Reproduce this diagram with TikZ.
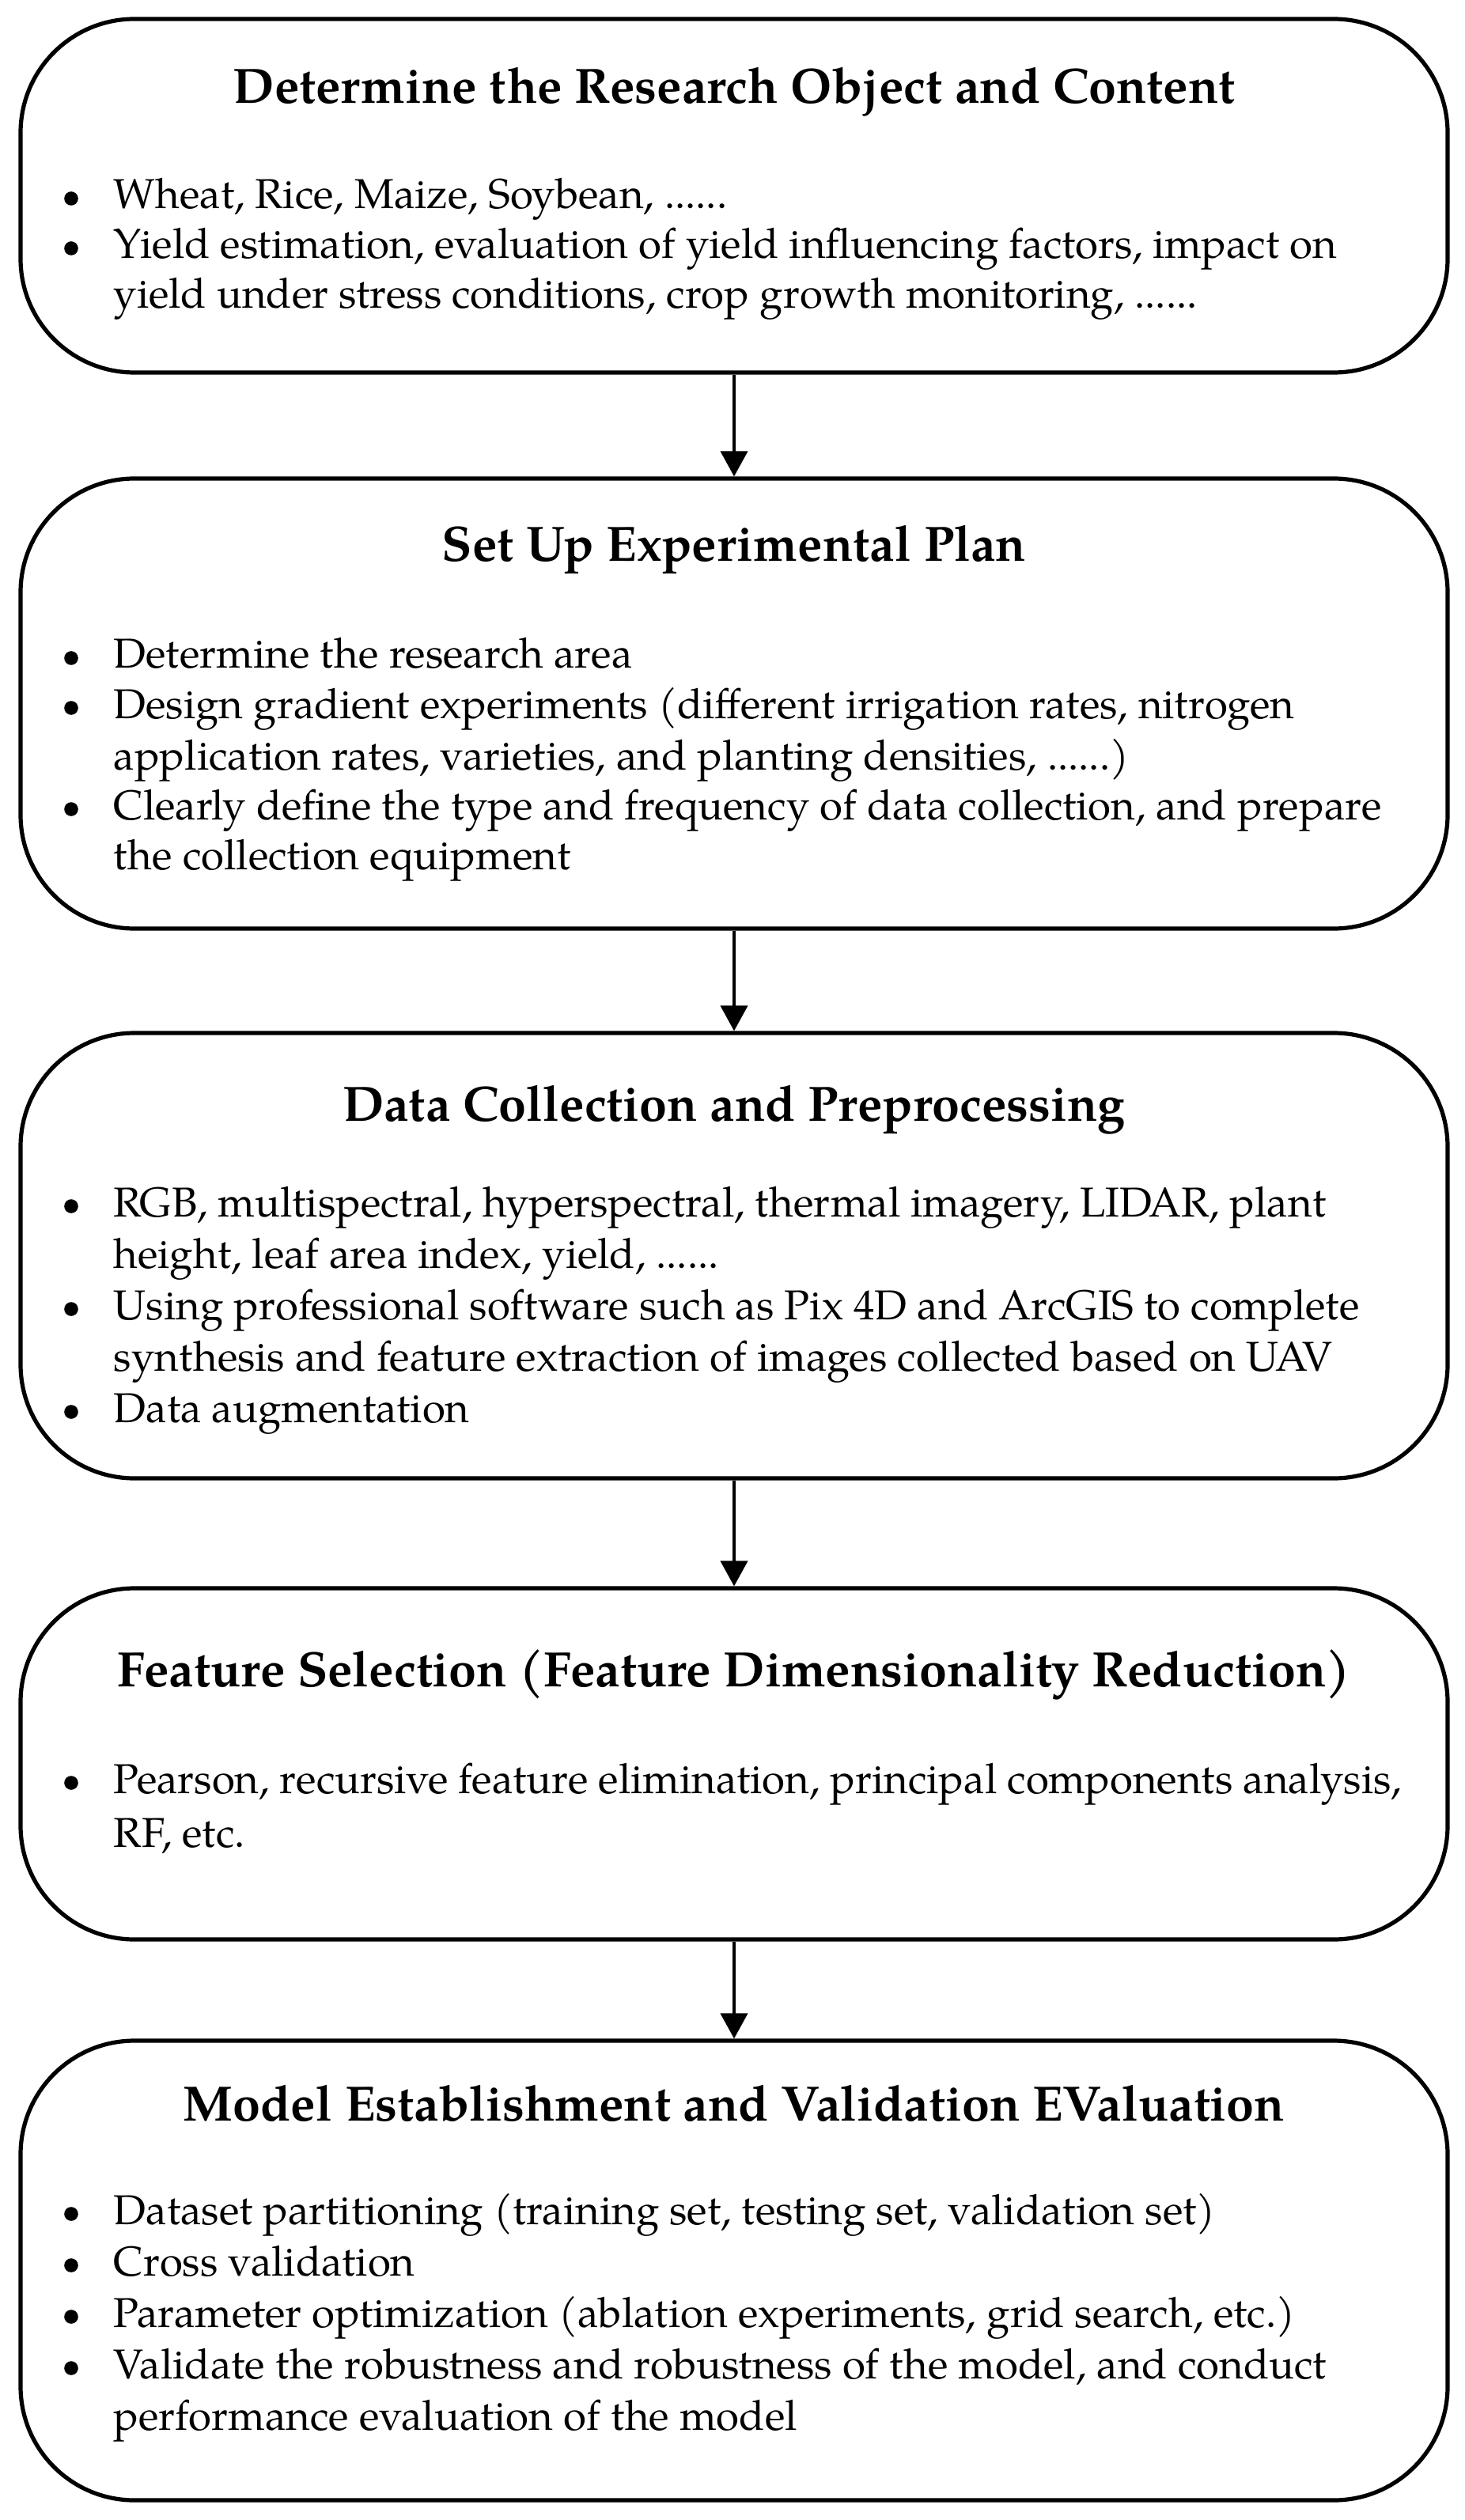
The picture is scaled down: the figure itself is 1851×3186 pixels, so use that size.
\documentclass[tikz,border=0pt]{standalone}
\usepackage{fontspec}
\setmainfont{TeX Gyre Pagella}
\usetikzlibrary{arrows.meta}
\begin{document}
\begin{tikzpicture}[x=0.25pt,y=-0.25pt,
  box/.style={draw,line width=1.3pt,rounded corners=36pt,minimum width=451pt,inner sep=0pt},
  ttl/.style={font=\fontsize{15.7}{18}\selectfont\bfseries,anchor=base,inner sep=0pt},
  body/.style={font=\fontsize{13.2}{15.75}\selectfont,anchor=base west,inner sep=0pt},
  bul/.style={circle,fill=black,inner sep=0pt,minimum size=4.4pt},
  arr/.style={-{Triangle[length=8pt,width=8.5pt]},line width=1pt}]
\useasboundingbox (0,0) rectangle (1851,3186);
% boxes
\node[box,minimum height=111.75pt] (b1) at (928,247.5) {};
\node[box,minimum height=142.25pt] (b2) at (928,889.5) {};
\node[box,minimum height=140.75pt] (b3) at (928,1587.5) {};
\node[box,minimum height=111pt] (b4) at (928,2230) {};
\node[box,minimum height=145.25pt] (b5) at (928,2870.5) {};
% arrows
\draw[arr] (b1.south) -- (b2.north);
\draw[arr] (b2.south) -- (b3.north);
\draw[arr] (b3.south) -- (b4.north);
\draw[arr] (b4.south) -- (b5.north);
% box 1
\node[ttl] (t1) at (928,131) {Determine the Research Object and Content};
\node[bul] (u1a) at (90,251) {};
\node[body] (l1a) at (143,264) {Wheat, Rice, Maize, Soybean, ......};
\node[bul] (u1b) at (90,314) {};
\node[body] (l1b) at (143,327) {Yield estimation, evaluation of yield influencing factors, impact on};
\node[body] (l1c) at (143,390) {yield under stress conditions, crop growth monitoring, ......};
% box 2
\node[ttl] (t2) at (928,710) {Set Up Experimental Plan};
\node[bul] (u2a) at (90,832) {};
\node[body] (l2a) at (143,845) {Determine the research area};
\node[bul] (u2b) at (90,895) {};
\node[body] (l2b) at (143,908) {Design gradient experiments (different irrigation rates, nitrogen};
\node[body] (l2c) at (143,973) {application rates, varieties, and planting densities, ......)};
\node[bul] (u2d) at (90,1023) {};
\node[body] (l2d) at (143,1036) {Clearly define the type and frequency of data collection, and prepare};
\node[body] (l2e) at (143,1099) {the collection equipment};
% box 3
\node[ttl] (t3) at (928,1417) {Data Collection and Preprocessing};
\node[bul] (u3a) at (90,1525) {};
\node[body] (l3a) at (143,1538) {RGB, multispectral, hyperspectral, thermal imagery, LIDAR, plant};
\node[body] (l3b) at (143,1603) {height, leaf area index, yield, ......};
\node[bul] (u3c) at (90,1655) {};
\node[body] (l3c) at (143,1668) {Using professional software such as Pix 4D and ArcGIS to complete};
\node[body] (l3d) at (143,1733) {synthesis and feature extraction of images collected based on UAV};
\node[bul] (u3e) at (90,1785) {};
\node[body] (l3e) at (143,1798) {Data augmentation};
% box 4
\node[ttl] (t4) at (928,2132) {Feature Selection (Feature Dimensionality Reduction)};
\node[bul] (u4a) at (90,2254) {};
\node[body] (l4a) at (143,2267) {Pearson, recursive feature elimination, principal components analysis,};
\node[body] (l4b) at (143,2335) {RF, etc.};
% box 5
\node[ttl] (t5) at (928,2681) {Model Establishment and Validation EValuation};
\node[bul] (u5a) at (90,2799) {};
\node[body] (l5a) at (143,2812) {Dataset partitioning (training set, testing set, validation set)};
\node[bul] (u5b) at (90,2864) {};
\node[body] (l5b) at (143,2877) {Cross validation};
\node[bul] (u5c) at (90,2929) {};
\node[body] (l5c) at (143,2942) {Parameter optimization (ablation experiments, grid search, etc.)};
\node[bul] (u5d) at (90,2994) {};
\node[body] (l5d) at (143,3007) {Validate the robustness and robustness of the model, and conduct};
\node[body] (l5e) at (143,3072) {performance evaluation of the model};
\end{tikzpicture}
\end{document}
